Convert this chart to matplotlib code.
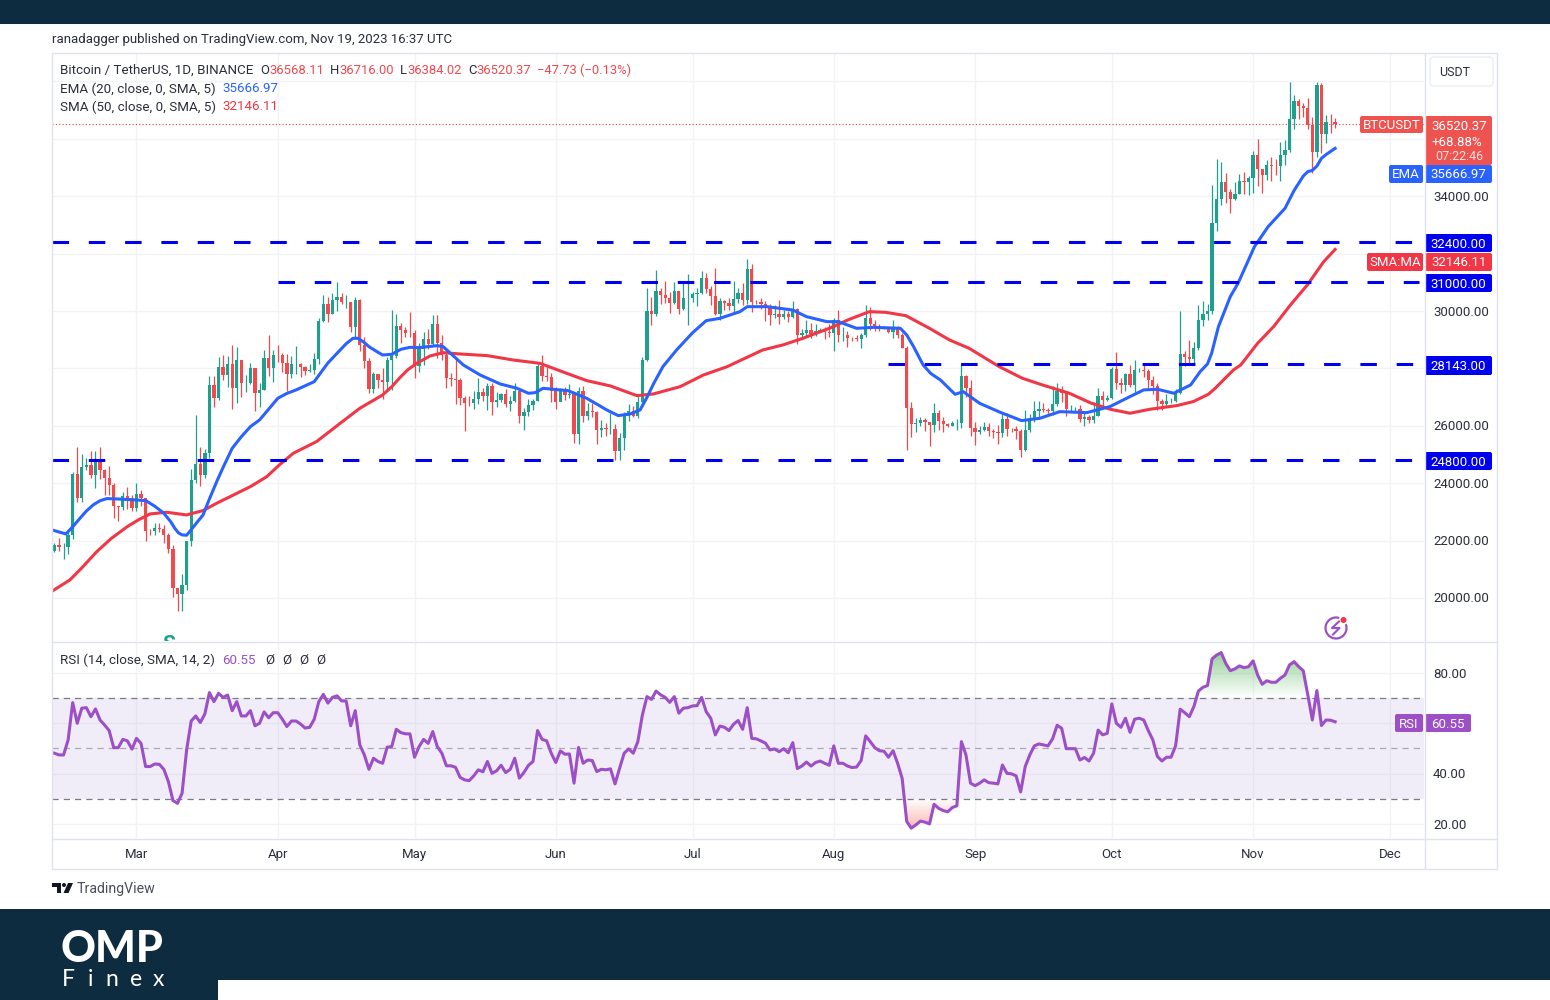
import numpy as np
import matplotlib
matplotlib.use("Agg")
import matplotlib.pyplot as plt
from matplotlib.patches import Rectangle, FancyBboxPatch, Circle, Polygon
from matplotlib.path import Path

plt.rcParams['font.family'] = ['Roboto', 'DejaVu Sans']

# daily candles, Feb 11 -> Nov 19 (index 0 = Feb 11)
closes = [21860,21780,21780,22200,24320,23480,24570,24630,24280,24840,24450,24180,23940,23190,23160,23560,23490,23130,
          23630,23470,22350,22340,22430,22410,22200,21700,20360,20150,20450,21990,24110,24670,24280,25050,27420,26960,28040,27770,28170,27300,28300,27480,27480,28000,27130,27260,28350,28030,28480,
          28450,28200,27800,28170,28170,28040,27920,27950,28330,29650,30230,29890,30400,30490,30320,30320,29430,30380,28800,28250,27270,27820,27590,27510,28300,28420,29470,29340,29250,29230,
          28070,28670,29030,28840,29530,28900,28450,27660,27630,27600,26970,26800,26780,26930,27170,27030,27400,26830,26890,27100,26750,26850,27220,26330,26470,26720,26870,28080,27740,27700,27210,
          26820,27250,27070,27120,25730,27230,26340,26500,26480,25850,25940,25900,25900,25130,25590,26340,26510,26340,26840,28310,29990,29890,30690,30550,30470,30270,30690,30080,30450,30470,
          30590,30620,31160,30770,30510,29900,30350,30290,30170,30410,30620,30380,31450,30310,30300,30230,30140,29860,29910,29800,29900,29790,30080,29180,29230,29350,29210,29320,29350,29280,29230,
          29700,29170,29170,29070,29050,29040,29180,29770,29560,29430,29400,29420,29280,29400,29170,28700,26620,26050,26100,26190,26120,26040,26430,26160,26050,26000,26090,26100,27730,27300,25930,
          25800,25870,25970,25810,25780,25750,26240,25900,25890,25830,25160,25840,26220,26530,26600,26560,26530,26760,27210,27130,26570,26580,26580,26250,26300,26210,26350,27030,26910,26960,
          27980,27500,27430,27790,27410,27930,27960,27920,27590,27390,26870,26750,26860,26860,27150,28500,28400,28320,28710,29680,29910,29990,33070,33920,34500,34150,33900,34090,34530,34480,34650,
          35420,34940,34730,35080,35050,35040,35420,35620,36690,37310,37130,37060,36490,35550,37880,36160,36590,36570,36520]
highs = [21900,22090,21900,22320,24380,25250,25020,24880,25120,25120,25250,24480,24600,24000,23220,23690,23880,23600,
         24000,23780,23480,22420,22600,22600,22540,22260,21830,20300,20850,22000,24500,26380,25250,25180,27750,27720,28390,28470,28440,28800,28740,28200,27780,28180,28000,27500,28650,29170,28650,
         28800,28530,28490,28440,28780,28190,28100,28170,28530,29770,30550,30490,30620,31000,30620,30550,30320,30490,30410,29100,28370,27880,27820,28000,28400,30020,29890,29580,29450,29970,
         29330,28880,29270,29360,29860,29850,29180,28660,27830,28330,27650,27050,27030,27200,27670,27300,27480,27500,27180,27150,27280,27050,27500,27210,26630,26930,26930,28200,28450,28050,27830,
         27350,27300,27340,27450,27130,27350,27400,26800,26790,26530,26200,26100,26440,26080,25750,26480,26770,26700,27040,28400,30800,30500,31430,30810,31050,30650,31000,30710,31000,31280,
         30660,30800,31380,31320,30880,31500,30450,30380,30440,31030,30800,30980,31800,31640,30390,30460,30340,30250,30200,30400,30050,29990,30350,30100,29390,29680,29580,29530,29420,29450,29530,
         29740,30050,29440,29320,29110,29170,29240,30200,30140,29700,29540,29470,29450,29670,29480,29230,28770,26820,26270,26300,26260,26130,26800,26560,26300,26100,26180,26250,28140,27760,27580,
         26130,25980,26120,26100,25880,26040,26450,26430,25940,26000,25880,26560,26400,26860,26880,26780,26620,27400,27490,27380,27160,26740,26640,26740,26430,26390,26840,27300,27220,27090,
         28060,28580,27680,27840,28130,28290,28030,28110,27990,27730,27480,26950,27100,26980,27290,30000,28620,28980,28930,30200,30350,30230,34400,35280,35200,34820,34240,34480,34770,34860,34720,
         35580,35980,34950,35260,35380,35280,35880,35950,37970,37530,37400,37240,37420,36750,37980,37930,36840,36850,36716]
lows = [21600,21630,21350,21530,22050,23340,23340,24450,24180,23830,24150,23600,23600,22780,22700,23070,23100,23020,
        23020,23200,21970,22200,22200,22300,21930,21580,20040,19550,19550,20270,21820,24000,23900,24190,24880,26640,26900,27580,27340,26600,26800,27000,27170,27440,26520,26650,27240,27720,27520,
        28230,27870,27200,27660,27820,27710,27770,27880,27800,28170,29610,29620,29880,30000,30230,30120,29270,29100,28620,28000,27130,27130,27330,26950,27200,27240,28380,28900,29100,29100,
        27660,27870,28120,28670,28820,28380,28280,27300,27380,26760,26720,25810,26680,26600,26750,26850,26540,26360,26640,26830,26660,26520,26820,26100,25870,26330,26550,26870,27550,27560,26840,
        26600,26950,26900,26960,25390,25350,26120,26200,26310,25380,25610,25640,25720,24800,24820,25160,26180,26300,26260,26650,28270,29500,29810,30260,30280,29930,30230,29900,30030,29500,
        30320,30170,30580,30630,30200,29850,29700,30050,30040,29950,30280,30200,30250,29960,30250,30070,29660,29500,29760,29560,29720,29620,29740,28860,29030,29100,29070,29130,29260,29030,29100,
        28590,28920,28950,28740,28960,28970,28700,29100,29350,29320,29320,29360,29250,29050,29050,28700,25170,25600,25800,26000,25810,25300,25800,25860,25780,25960,25980,25860,25920,27020,25650,
        25330,25720,25810,25630,25560,25370,25600,25640,25800,25550,24900,25130,25770,26130,26220,26470,26410,26380,26680,26830,26350,26470,26500,26140,25990,26090,26110,26340,26660,26880,
        26950,27280,27160,27210,27340,27180,27860,27710,27290,27120,26540,26560,26700,26810,26840,27110,28100,28140,28170,28630,29480,29670,29880,32800,33700,33750,33400,33860,34060,34080,34050,
        34100,34350,34100,34580,34530,34730,34520,35100,35530,36330,36700,36750,36330,34800,35360,35500,35870,36200,36384]

ema_days = [-1,1,2.5,4,5.6,7,8.5,10,11.5,14,20,22,24,25.5,26.4,27.2,28,29,30,31,32.6,34,35.6,37,39,41,43,45,47,49,51,53,57,58.6,60,62,64,65.5,66.6,68,69,71,72,74,76,78,80,84,85.3,87.5,89.7,93.4,97.8,101.5,104,105.5,107.2,112.7,116.8,121.2,123.7,126.3,128.5,130,131.5,133.5,136.5,140,143,146,150.4,152,156.3,162,165,169.5,172,176,179.7,185.6,187,188.5,190.6,192.3,194.4,197.6,199.4,203,207.5,212.2,216.2,220.6,226.5,231.6,236,239,242,245.6,249.3,251.4,253,253.9,255.4,256.7,258,259.7,263.3,266.3,270,272,274,275,276,277,278,279,280,281]
ema_vals = [22396,22300,22233,22480,22779,23030,23244,23390,23464,23450,23395,23200,22953,22660,22431,22270,22199,22187,22380,22580,22895,23450,24056,24550,25217,25620,25972,26204,26580,26959,27130,27249,27539,27888,28190,28526,28860,29049,29049,28900,28758,28560,28468,28490,28665,28735,28725,28793,28758,28440,28120,27771,27458,27307,27133,27156,27307,27225,26958,26552,26355,26413,26552,26990,27480,28061,28642,29240,29664,29745,29977,30151,30151,30035,29803,29629,29629,29397,29431,29397,29165,28760,28120,27820,27597,27098,27190,26784,26471,26181,26262,26494,26459,26670,27019,27251,27274,27135,27425,27890,28157,28528,29457,29979,30502,30966,32243,32940,33578,34200,34700,34856,34900,35050,35320,35450,35560,35667]
sma_days = [-1,3.4,6,9.3,12.5,16,18.5,21,24.6,29,32.6,35.6,43,46.6,49.5,52.4,57.5,62.7,67,72,74,75.8,77.5,79.5,82.4,85.3,89,95,100.6,106.5,112.4,116.8,122,127.8,131.4,137.3,142.4,147.6,150.4,155.4,159.8,164.2,170,174.4,178.8,182.4,186.8,192,196.4,200.7,207.3,212.4,216.8,222.7,227.3,231.6,236,240.4,246.3,249.9,253.2,254.7,256.5,258.7,260.3,264,267.5,271.2,274.9,278.5,281]
sma_vals = [20190,20631,21050,21618,22080,22489,22730,22930,22988,22895,23046,23302,23882,24230,24660,25043,25450,26088,26611,27075,27360,27680,27950,28178,28433,28549,28503,28445,28294,28178,27829,27574,27388,27051,27110,27365,27771,28061,28270,28642,28816,29048,29397,29710,29977,29954,29838,29397,28990,28700,28061,27655,27423,27133,26800,26578,26438,26578,26705,26845,27100,27309,27599,27948,28122,28877,29457,30212,30908,31721,32146]

rsi_vals = [48.1,47.4,47.4,53.4,68.2,60,66,66.2,62.6,65.7,61.3,59.3,57.1,50.3,50.3,53.6,53,49.7,54,52,42.8,42.8,43.8,43.7,41.7,36.8,29.3,28.2,32.2,49.4,60.9,62.9,60.3,63.7,72.2,68.6,71.9,70.3,71.2,65,68.6,62.9,62.9,65,59,60,64.5,62.2,64.2,64.2,
            61.6,58.7,60.9,60.9,59.7,58.1,58.4,61.6,68.6,71.5,68,70.3,70.9,68.9,68.9,59,65,51.4,47.4,41.7,46.1,44.8,44.1,50.5,50.7,57.6,56.3,55.8,55.8,46.5,50.7,53.6,52,56.7,50.7,48.1,43.1,43.1,42.5,38.5,37.5,37.2,39.1,41.5,40.7,44.8,40.1,41.1,43.3,40.4,
            41.7,46.1,38.2,40.4,43.3,44.8,57.1,53.6,53,48.1,44.4,49,47.7,47.8,36.2,50.4,44.1,45.4,45.2,40.8,41.7,41.5,41.9,35.9,42.1,48.1,49.8,48.1,52.7,63.3,70.6,69.5,72.8,71.3,70.3,68.3,70.6,64,66,66.2,66.9,67,70.3,64.6,62,55.4,58.9,58.4,57.1,59.6,
            61.1,57.6,66.2,54,53.8,53,52.1,49.4,49.8,48.7,49.9,48.3,52.3,42,43,44.6,43,44.4,45,44.1,43.3,51,44.1,44.1,43,42.4,42.6,45.2,55,52.7,50.3,49.1,48.9,46.5,49.1,44.1,38.1,21,18.3,19.6,21.1,20.7,20,27.8,26.2,25.3,24.8,26.5,27.2,52.7,47.4,36.2,
            35.2,36.2,37.5,36.4,36.2,35.9,43.4,40.1,39.9,39.1,32.7,42.8,47.4,51,51.8,51.4,51,53.8,59.2,58,49.9,49.9,49.9,45.4,46.4,45,48.1,57.3,55.4,56,67.7,60,58.4,62,56.4,61.6,62,61.3,57.1,53.4,46.8,45,46.5,46.5,51,65.6,64.2,62.6,66.6,72.8,74.3,75,
            85.6,87.1,88.1,83.8,80.9,81.6,82.8,82.1,82.5,84.8,79.2,75.5,76.9,76.3,76.3,77.9,79.2,83.2,84.5,82.5,80.9,71.3,61.3,73,59.1,61.3,61.2,60.6]

month_pos = [18,49,79,110,140,171,202,232,263,293]
month_labels = ['Mar','Apr','May','Jun','Jul','Aug','Sep','Oct','Nov','Dec']
price_ticks = [20000,22000,24000,26000,28000,30000,32000,34000,36000,38000]
price_shown = [20000,22000,24000,26000,30000,34000]
rsi_ticks = [20,40,60,80]
rsi_shown = [20,40,80]
# level, first day, last day
levels = [(32400,-0.54,298),(31000,49,299.5),(28143,183,298),(24800,-0.54,298)]

UP = '#1fa08e'
DOWN = '#f2494f'
BLUE = '#2962ff'
RED = '#f23645'
PURPLE = '#9c4fc6'
GRID = '#f2f3f7'
EDGE = '#e0e3eb'
NAVY = '#0e2c40'
TXT = '#2a2e39'
W, H = 1550, 1000

def box(x0, y0, x1, y1):
    return [x0 / W, 1 - y1 / H, (x1 - x0) / W, (y1 - y0) / H]

fig = plt.figure(figsize=(15.5, 10), dpi=100, facecolor='white')
ax = fig.add_axes(box(52, 53, 1424, 641))
rax = fig.add_axes(box(52, 642, 1424, 838))
top = fig.add_axes([0, 0, 1, 1], zorder=10)
top.set_xlim(0, W)
top.set_ylim(H, 0)
top.axis('off')
top.patch.set_alpha(0)

xlim = (-0.54, 300.5)

# price panel
closes_a = np.array(closes)
opens_a = np.array([21640] + closes[:-1])
highs_a = np.array(highs)
lows_a = np.array(lows)
days = np.arange(len(closes))
colors = [UP if c >= o else DOWN for o, c in zip(opens_a, closes_a)]

ax.set_xlim(*xlim)
ax.set_ylim(18502, 38990)
ax.set_xticks(month_pos)
ax.set_yticks(price_ticks)
ax.grid(True, color=GRID, lw=1)
ax.set_axisbelow(True)
ax.tick_params(length=0, labelbottom=False, labelleft=False)
for s in ax.spines.values():
    s.set_visible(False)

ax.axhline(closes[-1], color=RED, lw=0.8, ls=(0, (1, 2)), zorder=1)
ax.vlines(days, lows_a, highs_a, colors=colors, lw=0.9, zorder=2)
ax.bar(days, closes_a - opens_a, bottom=opens_a, width=0.72, color=colors, lw=0, zorder=3)
ax.plot(sma_days, sma_vals, color=RED, lw=2.2, zorder=4, solid_joinstyle='round')
ax.plot(ema_days, ema_vals, color=BLUE, lw=2.2, zorder=5, solid_joinstyle='round')
for level, d0, d1 in levels:
    ax.plot([d0, d1], [level, level], color='#0000f0', lw=2.2, ls=(0, (5.4, 6.48)),
            dash_capstyle='butt', zorder=6)

# rsi panel
rsi = np.array(rsi_vals)
rax.set_xlim(*xlim)
rax.set_ylim(14.4, 92.3)
rax.set_xticks(month_pos)
rax.set_xticklabels(month_labels, fontsize=9.5, color=TXT)
rax.set_yticks(rsi_ticks)
rax.set_yticklabels([])
rax.grid(True, color=GRID, lw=1)
rax.set_axisbelow(True)
rax.tick_params(length=0, pad=7)
for s in rax.spines.values():
    s.set_visible(False)
rax.axhspan(30, 70, color='#7e57c2', alpha=0.1, lw=0, zorder=1)
for v, c in [(70, '#787b86'), (50, '#a8aab2'), (30, '#787b86')]:
    rax.axhline(v, color=c, lw=0.9, ls=(0, (5, 4)), zorder=2)

over = rax.fill_between(days, rsi, 70, where=rsi >= 70, interpolate=True, color='none')
grad = np.zeros((100, 2, 4))
grad[:, :, :3] = (0.30, 0.69, 0.31)
grad[:, :, 3] = np.linspace(0.65, 0, 100)[:, None]
im = rax.imshow(grad, extent=(xlim[0], xlim[1], 70, 90), aspect='auto', origin='upper', zorder=2)
im.set_clip_path(Path.make_compound_path(*over.get_paths()), rax.transData)

under = rax.fill_between(days, rsi, 30, where=rsi <= 30, interpolate=True, color='none')
grad = np.zeros((100, 2, 4))
grad[:, :, :3] = (0.96, 0.26, 0.21)
grad[:, :, 3] = np.linspace(0.0, 0.4, 100)[:, None]
im = rax.imshow(grad, extent=(xlim[0], xlim[1], 17, 30), aspect='auto', origin='upper', zorder=2)
im.set_clip_path(Path.make_compound_path(*under.get_paths()), rax.transData)

rax.set_xlim(*xlim)
rax.set_ylim(14.4, 92.3)
rax.plot(days, rsi, color=PURPLE, lw=2.2, zorder=4, solid_joinstyle='round')

# frame and bands
top.add_patch(Rectangle((0, 0), W, 24, color=NAVY, lw=0))
top.add_patch(Rectangle((0, 909), W, 91, color=NAVY, lw=0))
top.add_patch(Rectangle((218, 980), W - 218, 20, color='white', lw=0))
top.add_patch(Rectangle((51.5, 52.5), 1445, 816, fill=False, edgecolor=EDGE, lw=1))
top.plot([1424.5, 1424.5], [53, 868], color=EDGE, lw=1)
top.plot([52, 1497], [641.5, 641.5], color=EDGE, lw=1)
top.plot([52, 1497], [838.5, 838.5], color=EDGE, lw=1)

# price axis numbers
def py(p):
    return 311 - (p - 30000) * 0.0287

for p in price_shown:
    top.text(1433, py(p) + 1, '%.2f' % p, fontsize=9.5, color=TXT, va='center')
for v in rsi_shown:
    top.text(1433, 674 + (80 - v) * 2.517, '%.2f' % v, fontsize=9.5, color=TXT, va='center')

def tag(x0, y0, x1, y1, color, text, size=9.5):
    top.add_patch(FancyBboxPatch((x0, y0), x1 - x0, y1 - y0, boxstyle='round,pad=0,rounding_size=2',
                                 facecolor=color, edgecolor='none'))
    top.text((x0 + x1) / 2, (y0 + y1) / 2 + 1, text, fontsize=size, color='white', ha='center', va='center')

LRED = '#ef5350'
tag(1425, 116, 1492, 165, LRED, '')
top.text(1459, 126, '36520.37', fontsize=9.5, color='white', ha='center', va='center')
top.text(1457, 142, '+68.88%', fontsize=9.5, color='white', ha='center', va='center')
top.text(1459, 157, '07:22:46', fontsize=9, color='#fde0e0', ha='center', va='center')
tag(1360, 116, 1423, 133, LRED, 'BTCUSDT')
tag(1389, 165, 1423, 183, BLUE, 'EMA')
tag(1425, 165, 1492, 183, BLUE, '35666.97')
tag(1425, 234, 1492, 252, '#0000f0', '32400.00')
tag(1367, 253, 1423, 271, RED, 'SMA:MA')
tag(1425, 253, 1492, 271, RED, '32146.11')
tag(1425, 274, 1492, 292, '#0000f0', '31000.00')
tag(1425, 356, 1492, 375, '#0000f0', '28143.00')
tag(1425, 452, 1492, 470, '#0000f0', '24800.00')
tag(1395, 714, 1423, 732, PURPLE, 'RSI')
tag(1425, 714, 1471, 732, PURPLE, '60.55')
top.add_patch(FancyBboxPatch((1430, 57), 63, 29, boxstyle='round,pad=0,rounding_size=4',
                             facecolor='white', edgecolor='#eef0f4', lw=1.2))
top.text(1439, 73, 'USDT', fontsize=9, color=TXT, va='center')

# header and legend text
FS = 9.6
top.text(52, 40, 'ranadagger published on TradingView.com, Nov 19, 2023 16:37 UTC', fontsize=9.5, color=TXT, va='center')
top.text(60, 70, 'Bitcoin / TetherUS, 1D, BINANCE', fontsize=FS, color=TXT, va='center')
for x, s, c in [(260, 'O', TXT), (269, '36568.11', DOWN), (330, 'H', TXT), (339, '36716.00', DOWN),
                (400, 'L', TXT), (407, '36384.02', DOWN), (468, 'C', TXT), (476, '36520.37', DOWN),
                (537, '\u221247.73 (\u22120.13%)', DOWN)]:
    top.text(x, 70, s, fontsize=9.4, color=c, va='center')
top.text(60, 89, 'EMA (20, close, 0, SMA, 5)', fontsize=FS, color=TXT, va='center')
top.text(222, 89, '35666.97', fontsize=FS, color=BLUE, va='center')
top.text(60, 107, 'SMA (50, close, 0, SMA, 5)', fontsize=FS, color=TXT, va='center')
top.text(222, 107, '32146.11', fontsize=FS, color=RED, va='center')
top.text(60, 660, 'RSI (14, close, SMA, 14, 2)', fontsize=FS, color=TXT, va='center')
top.text(222, 660, '60.55', fontsize=FS, color=PURPLE, va='center')
for x in [265, 282, 299, 316]:
    top.text(x, 660, '\u00d8', fontsize=FS, color=TXT, va='center')

# small event icon and the cut off S marker
ax.text(25.1, 18711, 'S', fontsize=15, fontweight='bold', color=UP, ha='center', va='top', clip_on=True)
top.add_patch(Circle((1336, 628), 10.5, fill=False, edgecolor=PURPLE, lw=1.6))
top.plot([1339, 1332, 1339.5, 1333], [621.5, 628, 628, 634.5], color=PURPLE, lw=1.5)
top.add_patch(Circle((1343.5, 620), 4.8, color='white', lw=0))
top.add_patch(Circle((1343.5, 620), 3, color=RED, lw=0))

# TradingView mark
top.add_patch(Polygon([(52, 883), (61, 883), (61, 893), (57, 893), (57, 887), (52, 887)], color='#131722', lw=0))
top.add_patch(Circle((64, 885), 2, color='#131722', lw=0))
top.add_patch(Polygon([(68, 883), (73, 883), (68.5, 893), (63.5, 893)], color='#131722', lw=0))
top.text(77, 889, 'TradingView', fontsize=10.2, color='#4a4e59', va='center')

# OMP logo
top.text(60, 949, 'OMP', fontsize=31, fontweight='black', family=['Lato', 'DejaVu Sans'], color='white', va='center')
for x, s in zip([62, 88, 105, 130, 153], 'Finex'):
    top.text(x, 979, s, fontsize=16.5, family=['Lato', 'DejaVu Sans'], color='white', va='center')

fig.savefig('out.png', dpi=100, facecolor='white')
